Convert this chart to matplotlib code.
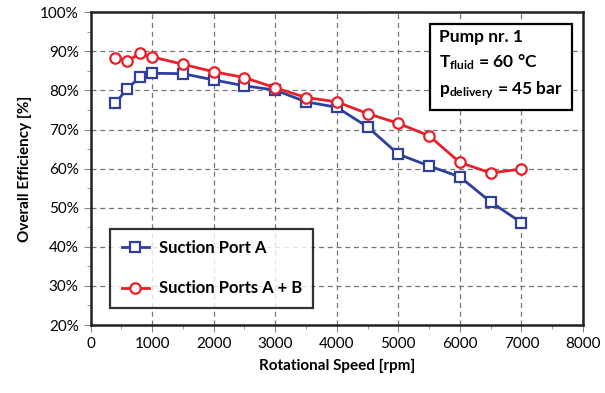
import matplotlib
matplotlib.use("Agg")
import matplotlib.pyplot as plt
from matplotlib.ticker import MultipleLocator, FuncFormatter

speed = [400, 600, 800, 1000, 1500, 2000, 2500, 3000, 3500, 4000, 4500, 5000, 5500, 6000, 6500, 7000]
port_a = [76.7, 80.5, 83.4, 84.4, 84.3, 82.7, 81.2, 80.1, 77.1, 75.7, 70.7, 63.7, 60.7, 57.9, 51.5, 46.2]
ports_ab = [88.4, 87.5, 89.5, 88.6, 86.7, 84.8, 83.3, 80.7, 78.2, 77.1, 74.1, 71.6, 68.4, 61.6, 58.9, 59.9]

plt.rcParams['font.family'] = ['Lato', 'DejaVu Sans']
plt.rcParams['mathtext.fontset'] = 'custom'
plt.rcParams['mathtext.rm'] = 'Lato'
plt.rcParams['mathtext.bf'] = 'Lato:bold'
plt.rcParams['mathtext.it'] = 'Lato:italic'

fig = plt.figure(figsize=(6.05, 3.93), dpi=100)
ax = fig.add_axes([0.1496, 0.173, 0.814, 0.7957])

blue = '#2E3F9E'
red = '#E8202A'
ax.plot(speed, port_a, color=blue, lw=2.0, marker='s', ms=7.5, mfc='white', mec=blue, mew=1.6,
        label='Suction Port A', zorder=3)
ax.plot(speed, ports_ab, color=red, lw=2.0, marker='o', ms=7.5, mfc='white', mec=red, mew=1.6,
        label='Suction Ports A + B', zorder=4)

ax.set_xlim(0, 8000)
ax.set_ylim(20, 100)
ax.xaxis.set_major_locator(MultipleLocator(1000))
ax.xaxis.set_minor_locator(MultipleLocator(500))
ax.yaxis.set_major_locator(MultipleLocator(10))
ax.yaxis.set_minor_locator(MultipleLocator(5))
ax.yaxis.set_major_formatter(FuncFormatter(lambda v, p: f'{int(v)}%'))
ax.grid(True, which='major', color='#777777', ls=(0, (4, 3)), lw=0.9)
ax.tick_params(axis='both', which='major', labelsize=11, direction='out', length=5, color='#888888')
ax.tick_params(axis='both', which='minor', direction='out', length=3, color='#888888')
for s in ax.spines.values():
    s.set_linewidth(1.8)
    s.set_color('#222222')

ax.set_xlabel('Rotational Speed [rpm]', fontsize=11, fontweight='bold', labelpad=6)
ax.set_ylabel('Overall Efficiency [%]', fontsize=11, fontweight='bold', labelpad=6)

leg = ax.legend(loc='lower left', bbox_to_anchor=(0.04, 0.054), frameon=True,
                fancybox=False, edgecolor='black', borderpad=0.7, labelspacing=1.45,
                handlelength=1.6, handletextpad=0.6, borderaxespad=0,
                prop={'weight': 'bold', 'size': 12})
leg.get_frame().set_linewidth(1.6)

ax.text(0.708, 0.946,
        'Pump nr. 1\n$\\mathbf{T_{fluid}}$ = 60 °C\n$\\mathbf{p_{delivery}}$ = 45 bar',
        transform=ax.transAxes, ha='left', va='top', multialignment='left', fontsize=12.5,
        fontweight='bold', linespacing=1.5,
        bbox=dict(boxstyle='square,pad=0.5', fc='white', ec='black', lw=1.6), zorder=6)
fig.savefig('out.png', dpi=100)
